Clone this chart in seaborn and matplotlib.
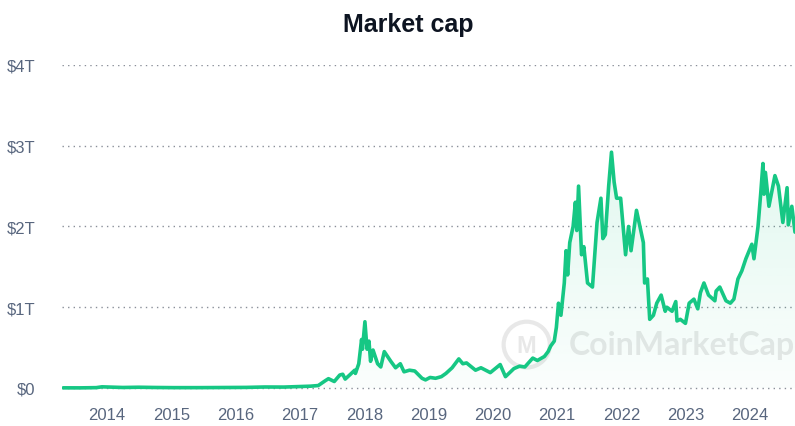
import seaborn as sns
import matplotlib
matplotlib.use('Agg')
import matplotlib.pyplot as plt
import matplotlib.dates as mdates
import matplotlib.patches as mpatches
import numpy as np
import pandas as pd

# total crypto market cap (trillions of USD)
dates = ['2013-04-28', '2013-08-01', '2013-11-01', '2013-12-04', '2014-01-15', '2014-04-01',
         '2014-07-01', '2014-10-01', '2015-01-15', '2015-06-01', '2015-11-05', '2016-03-01',
         '2016-06-15', '2016-10-01', '2017-01-01', '2017-03-01', '2017-04-15', '2017-05-25',
         '2017-06-12', '2017-07-15', '2017-08-15', '2017-09-01', '2017-09-15', '2017-10-15',
         '2017-11-08', '2017-11-12', '2017-12-01', '2017-12-17', '2017-12-22', '2018-01-05',
         '2018-01-17', '2018-01-28', '2018-02-06', '2018-02-20', '2018-03-18', '2018-04-05',
         '2018-04-25', '2018-06-01', '2018-06-28', '2018-07-25', '2018-08-15', '2018-09-15',
         '2018-10-15', '2018-11-25', '2018-12-15', '2019-01-10', '2019-02-10', '2019-03-15',
         '2019-04-10', '2019-05-15', '2019-06-22', '2019-07-15', '2019-08-05', '2019-09-25',
         '2019-10-26', '2019-12-18', '2020-02-12', '2020-03-13', '2020-04-30', '2020-06-01',
         '2020-07-01', '2020-08-15', '2020-09-10', '2020-10-20', '2020-11-10', '2020-11-25',
         '2020-12-15', '2020-12-27', '2021-01-08', '2021-01-22', '2021-02-10', '2021-02-20',
         '2021-03-01', '2021-03-13', '2021-04-01', '2021-04-14', '2021-04-22', '2021-05-02',
         '2021-05-19', '2021-06-01', '2021-06-22', '2021-07-20', '2021-08-05', '2021-08-15',
         '2021-09-06', '2021-09-17', '2021-10-01', '2021-10-20', '2021-11-05', '2021-11-20',
         '2021-12-04', '2021-12-27', '2022-01-10', '2022-01-24', '2022-02-10', '2022-02-24',
         '2022-03-27', '2022-04-20', '2022-05-05', '2022-05-12', '2022-05-28', '2022-06-10',
         '2022-07-01', '2022-07-20', '2022-08-14', '2022-09-06', '2022-09-15', '2022-10-15',
         '2022-11-05', '2022-11-12', '2022-12-01', '2022-12-30', '2023-01-20', '2023-02-16',
         '2023-03-10', '2023-03-25', '2023-04-14', '2023-05-10', '2023-06-15', '2023-06-22',
         '2023-07-13', '2023-08-17', '2023-09-11', '2023-10-01', '2023-10-24', '2023-11-15',
         '2023-12-08', '2024-01-11', '2024-01-23', '2024-02-15', '2024-03-01', '2024-03-14',
         '2024-03-20', '2024-03-28', '2024-04-17', '2024-05-21', '2024-06-10', '2024-07-05',
         '2024-07-29', '2024-08-05', '2024-08-25', '2024-09-12']
values = [0.0015, 0.0012, 0.004, 0.014, 0.011, 0.006,
          0.009, 0.006, 0.004, 0.004, 0.006, 0.007,
          0.012, 0.011, 0.018, 0.022, 0.03, 0.09,
          0.115, 0.08, 0.16, 0.17, 0.11, 0.17,
          0.22, 0.18, 0.3, 0.6, 0.48, 0.82,
          0.48, 0.58, 0.33, 0.47, 0.3, 0.26,
          0.45, 0.33, 0.25, 0.3, 0.2, 0.22,
          0.21, 0.12, 0.10, 0.13, 0.12, 0.14,
          0.18, 0.25, 0.36, 0.3, 0.31, 0.22,
          0.25, 0.19, 0.29, 0.14, 0.24, 0.27,
          0.26, 0.37, 0.34, 0.39, 0.45, 0.52,
          0.58, 0.75, 1.05, 0.9, 1.3, 1.7,
          1.4, 1.8, 2.0, 2.3, 1.95, 2.5,
          1.65, 1.75, 1.3, 1.25, 1.75, 2.05,
          2.35, 1.85, 1.9, 2.5, 2.92, 2.55,
          2.35, 2.35, 2.0, 1.65, 2.0, 1.7,
          2.2, 1.95, 1.8, 1.3, 1.35, 0.85,
          0.9, 1.05, 1.15, 0.95, 1.0, 0.95,
          1.07, 0.83, 0.85, 0.8, 1.05, 1.1,
          0.98, 1.18, 1.3, 1.15, 1.08, 1.2,
          1.25, 1.08, 1.05, 1.1, 1.35, 1.45,
          1.6, 1.78, 1.6, 2.0, 2.4, 2.78,
          2.4, 2.67, 2.25, 2.63, 2.5, 2.05,
          2.48, 2.02, 2.25, 1.93]

ytick_vals = [0, 1, 2, 3, 4]
ytick_labels = ['$0', '$1T', '$2T', '$3T', '$4T']
years = list(range(2014, 2025))

df = pd.DataFrame({'date': pd.to_datetime(dates), 'cap': values})

sns.set_theme(style='white')
plt.rcParams['font.family'] = ['Liberation Sans', 'DejaVu Sans']

green = '#16c784'
gray = '#58667e'
wm = '#e8e8e8'

fig = plt.figure(figsize=(7.95, 4.27), dpi=100)
ax = fig.add_axes([62 / 795, 34 / 427, 733 / 795, 327 / 427])

x0 = pd.Timestamp('2013-04-21')
x1 = pd.Timestamp('2024-09-12')
ax.set_xlim(x0, x1)
ax.set_ylim(-0.05, 4)

# watermark
ax.text(0.692, 0.145, 'CoinMarketCap', transform=ax.transAxes, fontsize=23,
        family=['Lato', 'DejaVu Sans'], fontweight='bold', color=wm,
        ha='left', va='center', zorder=0, clip_on=False)
ax.add_patch(mpatches.Ellipse((0.634, 0.145), 0.063, 0.14, transform=ax.transAxes,
                              fill=False, ec=wm, lw=3, zorder=0))
ax.text(0.634, 0.143, 'M', transform=ax.transAxes, fontsize=17, fontweight='bold',
        color=wm, ha='center', va='center', zorder=0)

# gradient fill under the line
poly = ax.fill_between(df['date'], df['cap'], 0, color='none', lw=0)
grad = np.zeros((256, 2, 4))
rgb = matplotlib.colors.to_rgb(green)
grad[..., 0], grad[..., 1], grad[..., 2] = rgb
grad[..., 3] = np.linspace(0.02, 0.13, 256)[:, None]
im = ax.imshow(grad, extent=[mdates.date2num(x0), mdates.date2num(x1), 0, 3],
               aspect='auto', origin='lower', zorder=1)
im.set_clip_path(poly.get_paths()[0], transform=ax.transData)

sns.lineplot(data=df, x='date', y='cap', ax=ax, color=green, lw=2.6, zorder=3)

ax.set_yticks(ytick_vals)
ax.set_yticklabels(ytick_labels)
ax.set_xticks([pd.Timestamp(f'{y}-01-01') for y in years])
ax.set_xticklabels([str(y) for y in years])
ax.tick_params(axis='both', length=0, labelsize=12, labelcolor=gray)
ax.tick_params(axis='y', pad=19)
ax.tick_params(axis='x', pad=11)
ax.set_xlabel('')
ax.set_ylabel('')
ax.grid(axis='y', color='#8a8f99', linestyle=(0, (1, 3)), linewidth=1.0)
ax.grid(axis='x', visible=False)
for s in ax.spines.values():
    s.set_visible(False)

fig.text(408 / 795, 1 - 25 / 427, 'Market cap', ha='center', va='center',
         fontsize=18, fontweight='bold', color='#0d1421')

fig.savefig('out.png', dpi=100)
